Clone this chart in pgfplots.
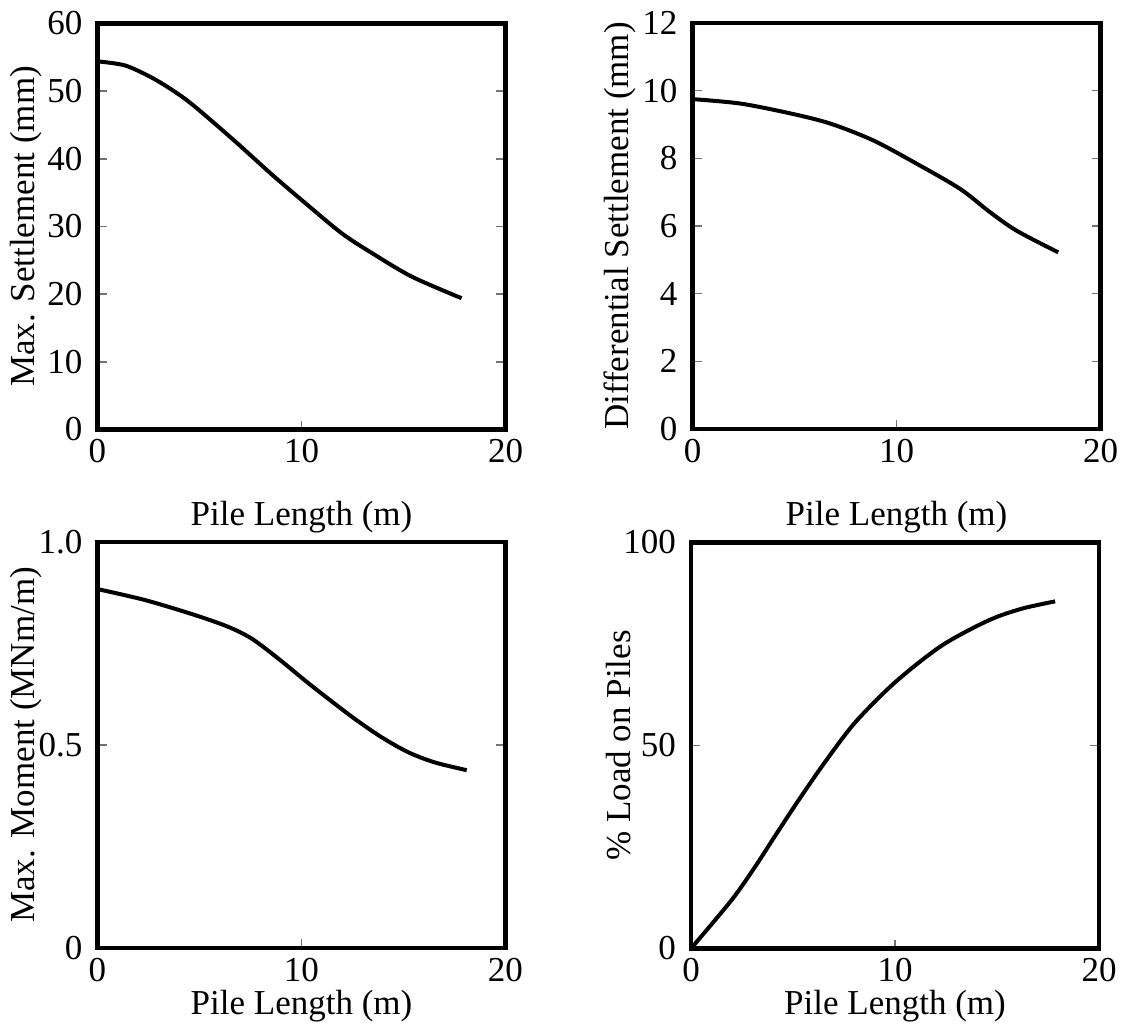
\documentclass[border=0pt]{standalone}
\usepackage{fontspec}
\setmainfont{Liberation Serif}
\usepackage{pgfplots}
\pgfplotsset{compat=1.18}
\begin{document}
\fontsize{17.5}{21}\selectfont
\begin{tikzpicture}
\pgfplotsset{
  panel/.style={
    scale only axis, width=204pt, height=203pt,
    xmin=0, xmax=20, xtick={0,10,20}, xtick pos=bottom,
    axis line style={line width=2.3pt, black},
    tick style={line width=0.7pt, black!55},
    major tick length=4.5pt, tick align=inside,
    every tick label/.append style={font=\fontsize{17.5}{21}\selectfont},
    label style={font=\fontsize{17.5}{21}\selectfont},
    /pgf/number format/assume math mode=true,
    yticklabel style={xshift=-1.5pt},
    xticklabel style={yshift=1pt},
    xlabel={Pile Length (m)},
  },
  curve/.style={black, line width=2pt, smooth, no markers},
}
\path[use as bounding box] (0,0) rectangle (562pt,-513pt);

% Top-left
\begin{axis}[panel, at={(48.75pt,-214.75pt)}, anchor=south west,
  ymin=0, ymax=60, ytick={0,10,20,30,40,50,60},
  xlabel style={at={(axis description cs:0.5,-0.216)}, anchor=center},
  ylabel={Max. Settlement (mm)},
  ylabel style={at={(axis description cs:-0.175,0.5)}, anchor=center}]
\addplot[curve] coordinates {(0,54.4)(1.35,53.8)(2.66,52.0)(3.8,49.9)(4.78,47.7)(6.74,42.6)(8.54,37.7)(10.17,33.5)(11.97,29.0)(13.44,26.1)(15.40,22.6)(17.85,19.4)};
\end{axis}

% Top-right
\begin{axis}[panel, at={(346.25pt,-214.5pt)}, anchor=south west,
  ymin=0, ymax=12, ytick={0,2,4,6,8,10,12},
  xlabel style={at={(axis description cs:0.5,-0.216)}, anchor=center},
  ylabel={Differential Settlement (mm)},
  ylabel style={at={(axis description cs:-0.178,0.5)}, anchor=center}]
\addplot[curve] coordinates {(0,9.75)(2.33,9.62)(4.78,9.33)(6.74,9.03)(8.86,8.53)(10.99,7.84)(13.11,7.10)(14.58,6.41)(15.89,5.86)(17.93,5.22)};
\end{axis}

% Bottom-left
\begin{axis}[panel, at={(48.75pt,-474pt)}, anchor=south west,
  ymin=0, ymax=1, ytick={0,0.5,1}, yticklabels={0,0.5,1.0},
  xlabel style={at={(axis description cs:0.5,-0.142)}, anchor=center},
  ylabel={Max. Moment (MNm/m)},
  ylabel style={at={(axis description cs:-0.174,0.5)}, anchor=center}]
\addplot[curve] coordinates {(0,0.884)(2.33,0.857)(4.78,0.820)(6.41,0.791)(7.56,0.762)(8.86,0.713)(10.17,0.659)(11.31,0.614)(12.62,0.564)(13.93,0.519)(15.24,0.482)(16.54,0.457)(18.1,0.438)};
\end{axis}

% Bottom-right
\begin{axis}[panel, at={(345.5pt,-474.25pt)}, anchor=south west,
  ymin=0, ymax=100, ytick={0,50,100},
  xlabel style={at={(axis description cs:0.5,-0.142)}, anchor=center},
  ylabel={\% Load on Piles},
  ylabel style={at={(axis description cs:-0.177,0.5)}, anchor=center}]
\addplot[curve] coordinates {(0,0)(2.0,12.0)(3.15,20.2)(4.13,27.8)(5.27,36.5)(6.58,46.0)(8.05,55.7)(10.01,65.6)(12.29,74.6)(14.58,80.8)(16.22,83.7)(17.85,85.5)};
\end{axis}
\end{tikzpicture}
\end{document}
